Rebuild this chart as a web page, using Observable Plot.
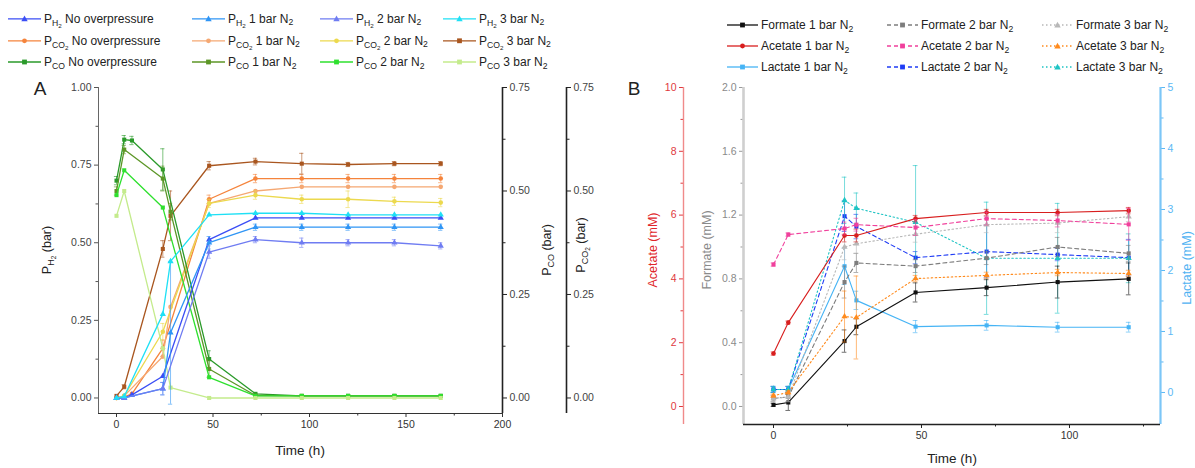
<!DOCTYPE html>
<html><head><meta charset="utf-8">
<script src="https://cdn.jsdelivr.net/npm/d3@7"></script>
<script src="https://cdn.jsdelivr.net/npm/@observablehq/plot@0.6"></script>
<style>
html,body{margin:0;padding:0;background:#fff;}
body{font-family:"Liberation Sans",Arial,Helvetica,sans-serif;}
#root{position:relative;width:1195px;height:468px;overflow:hidden;background:#fff;}
.leg{position:absolute;display:flex;align-items:center;font-size:12px;color:#222;white-space:nowrap;line-height:12px;transform:translateY(-50%);}
.leg svg{margin-right:3px;flex:none;}
sub{font-size:72%;vertical-align:-0.3em;line-height:0;}
.ylab{position:absolute;white-space:nowrap;font-size:12.5px;transform:translate(-50%,-50%) rotate(-90deg);}
.plab{position:absolute;font-size:19px;color:#222;transform:translate(-50%,-50%);}
.xlab{position:absolute;font-size:13.5px;color:#222;transform:translate(-50%,-50%);white-space:nowrap;}
</style></head><body><div id="root"></div>
<script>
// ---------------- Panel A data (time in h, pressures in bar) ----------------
const tA_noOver = [0, 4, 8, 24, 48, 72, 96, 120, 144, 168];
const tA_1bar   = [0, 4, 24, 28, 48, 72, 96, 120, 144, 168];
const tA_2bar   = [0, 4, 24, 48, 72, 96, 120, 144, 168];
const tA_3bar   = [0, 4, 24, 28, 48, 72, 96, 120, 144, 168];

const h2_noOver = [0, 0, 0.01, 0.07, 0.51, 0.58, 0.58, 0.58, 0.58, 0.58];
const h2_1bar   = [0, 0, 0.03, 0.21, 0.50, 0.55, 0.55, 0.55, 0.55, 0.55];
const h2_2bar   = [0, 0, 0.03, 0.47, 0.51, 0.50, 0.50, 0.50, 0.49];
const h2_3bar   = [0, 0.005, 0.27, 0.44, 0.59, 0.595, 0.595, 0.59, 0.59, 0.59];
const h2_1bar_err = [0, 0, 0.02, 0.23, 0.02, 0.01, 0.01, 0.01, 0.01, 0.01];
const h2_2bar_err = [0, 0, 0.02, 0.02, 0.01, 0.015, 0.01, 0.01, 0.01];

const co2_noOver = [0, 0.003, 0.01, 0.12, 0.48, 0.53, 0.53, 0.53, 0.53, 0.53];
const co2_1bar   = [0, 0.005, 0.10, 0.22, 0.47, 0.50, 0.51, 0.51, 0.51, 0.51];
const co2_2bar   = [0, 0.005, 0.16, 0.47, 0.49, 0.48, 0.48, 0.475, 0.472];
const co2_3bar   = [0.005, 0.027, 0.36, 0.44, 0.561, 0.571, 0.566, 0.564, 0.566, 0.566];
const co2_noOver_err = [0, 0, 0, 0.02, 0.01, 0.01, 0.01, 0.01, 0.01, 0.01];
const co2_2bar_err   = [0, 0, 0.02, 0.01, 0.01, 0.01, 0.02, 0.01, 0.01];
const co2_3bar_err   = [0, 0.005, 0.02, 0.06, 0.01, 0.008, 0.025, 0.005, 0.005, 0.005];

const co_noOver = [0.525, 0.624, 0.622, 0.552, 0.094, 0.01, 0.005, 0.005, 0.005, 0.005];
const co_1bar   = [0.50, 0.60, 0.53, 0.45, 0.07, 0.006, 0.005, 0.005, 0.005, 0.005];
const co_2bar   = [0.49, 0.55, 0.46, 0.05, 0.005, 0.005, 0.005, 0.005, 0.005];
const co_3bar   = [0.44, 0.50, 0.12, 0.025, 0, 0, 0, 0, 0, 0];
const co_noOver_err = [0.01, 0.01, 0.01, 0.05, 0.02, 0, 0, 0, 0, 0];
const co_1bar_err   = [0.01, 0.01, 0.03, 0.02, 0.02, 0, 0, 0, 0, 0];

// ---------------- Panel B data (time in h, concentrations in mM) ----------------
const tB = [0, 5, 24, 28, 48, 72, 96, 120];
const formate1 = [0.01, 0.025, 0.41, 0.50, 0.715, 0.745, 0.78, 0.80];
const acetate1 = [1.66, 2.63, 5.36, 5.36, 5.89, 6.08, 6.08, 6.14];
const lactate1 = [0.05, 0.05, 2.07, 1.51, 1.08, 1.10, 1.07, 1.07];
const formate2 = [0.05, 0.06, 0.78, 0.90, 0.88, 0.93, 1.00, 0.96];
const acetate2 = [4.45, 5.39, 5.58, 5.70, 5.61, 5.89, 5.83, 5.71];
const lactate2 = [0.05, 0.05, 2.89, 2.72, 2.21, 2.31, 2.26, 2.21];
const formate3 = [0.05, 0.06, 1.00, 1.02, 1.08, 1.14, 1.15, 1.19];
const acetate3 = [0.34, 0.44, 2.82, 2.79, 4.01, 4.11, 4.20, 4.17];
const lactate3 = [0.05, 0.05, 3.15, 3.02, 2.79, 2.20, 2.20, 2.20];

const formate1Err = [0.01, 0.05, 0.07, 0.05, 0.06, 0.05, 0.10, 0.10];
const acetate1Err = [0.05, 0.05, 0.20, 0.20, 0.10, 0.10, 0.10, 0.10];
const lactate1Err = [0.05, 0.05, 0.30, 0.15, 0.10, 0.08, 0.08, 0.08];
const formate2Err = [0.02, 0.03, 0.10, 0.06, 0.04, 0.04, 0.06, 0.05];
const acetate2Err = [0.05, 0.05, 0.20, 0.20, 0.25, 0.20, 0.20, 0.50];
const lactate2Err = [0.05, 0.05, 0.25, 0.20, 0.10, 0.43, 0.10, 0.30];
const formate3Err = [0.02, 0.03, 0.08, 0.06, 0.05, 0.05, 0.06, 0.03];
const acetate3Err = [0.05, 0.05, 0.80, 1.30, 0.10, 0.10, 0.10, 0.10];
const lactate3Err = [0.05, 0.05, 0.38, 0.25, 0.93, 0.92, 0.90, 0.40];

// ---------------- series definitions ----------------
const seriesA = [
  {gas:"H2",  cond:"No overpressure", t:tA_noOver, v:h2_noOver, e:null,        color:"#3b4ef5", symbol:"triangle", axis:"left"},
  {gas:"H2",  cond:"1 bar",           t:tA_1bar,   v:h2_1bar,   e:h2_1bar_err, color:"#2f95f5", symbol:"triangle", axis:"left"},
  {gas:"H2",  cond:"2 bar",           t:tA_2bar,   v:h2_2bar,   e:h2_2bar_err, color:"#6f7cf2", symbol:"triangle", axis:"left"},
  {gas:"H2",  cond:"3 bar",           t:tA_3bar,   v:h2_3bar,   e:null,        color:"#1fe0f5", symbol:"triangle", axis:"left"},
  {gas:"CO2", cond:"No overpressure", t:tA_noOver, v:co2_noOver, e:co2_noOver_err, color:"#f5843c", symbol:"circle", axis:"right"},
  {gas:"CO2", cond:"1 bar",           t:tA_1bar,   v:co2_1bar,   e:null,           color:"#f5a873", symbol:"circle", axis:"right"},
  {gas:"CO2", cond:"2 bar",           t:tA_2bar,   v:co2_2bar,   e:co2_2bar_err,   color:"#ecd94e", symbol:"circle", axis:"right"},
  {gas:"CO2", cond:"3 bar",           t:tA_3bar,   v:co2_3bar,   e:co2_3bar_err,   color:"#a9561f", symbol:"square", axis:"right"},
  {gas:"CO",  cond:"No overpressure", t:tA_noOver, v:co_noOver, e:co_noOver_err, color:"#2a9a2a", symbol:"square", axis:"right"},
  {gas:"CO",  cond:"1 bar",           t:tA_1bar,   v:co_1bar,   e:co_1bar_err,   color:"#5c9626", symbol:"square", axis:"right"},
  {gas:"CO",  cond:"2 bar",           t:tA_2bar,   v:co_2bar,   e:null,          color:"#2ee02e", symbol:"square", axis:"right"},
  {gas:"CO",  cond:"3 bar",           t:tA_3bar,   v:co_3bar,   e:null,          color:"#c4eb8c", symbol:"square", axis:"right"}
];
const seriesB = [
  {acid:"Formate", bar:1, t:tB, v:formate1, e:formate1Err, color:"#111111", dash:null,  symbol:"square",   axis:"formate"},
  {acid:"Acetate", bar:1, t:tB, v:acetate1, e:acetate1Err, color:"#d81e1e", dash:null,  symbol:"circle",   axis:"acetate"},
  {acid:"Lactate", bar:1, t:tB, v:lactate1, e:lactate1Err, color:"#46b4f5", dash:null,  symbol:"square",   axis:"lactate"},
  {acid:"Formate", bar:2, t:tB, v:formate2, e:formate2Err, color:"#7d7d7d", dash:"4,3", symbol:"square",   axis:"formate"},
  {acid:"Acetate", bar:2, t:tB, v:acetate2, e:acetate2Err, color:"#f0409c", dash:"4,3", symbol:"square",   axis:"acetate"},
  {acid:"Lactate", bar:2, t:tB, v:lactate2, e:lactate2Err, color:"#1f3cf5", dash:"4,3", symbol:"square",   axis:"lactate"},
  {acid:"Formate", bar:3, t:tB, v:formate3, e:formate3Err, color:"#b8b8b8", dash:"1.5,2.5", symbol:"triangle", axis:"formate"},
  {acid:"Acetate", bar:3, t:tB, v:acetate3, e:acetate3Err, color:"#ff8a1c", dash:"1.5,2.5", symbol:"triangle", axis:"acetate"},
  {acid:"Lactate", bar:3, t:tB, v:lactate3, e:lactate3Err, color:"#1ec4c4", dash:"1.5,2.5", symbol:"triangle", axis:"lactate"}
];

// ---------------- helpers ----------------
const root = document.getElementById("root");
const FONT = "Liberation Sans, Arial, sans-serif";
function place(svg){
  svg.style.position = "absolute"; svg.style.left = "0px"; svg.style.top = "0px";
  svg.style.background = "transparent"; svg.style.overflow = "visible"; svg.style.maxWidth = "none";
  root.appendChild(svg);
}
function seriesMarks(s, cap, lw){
  const d = s.t.map((t, i) => ({t, v: s.v[i], e: s.e ? s.e[i] : 0}));
  const de = d.filter(p => p.e > 0);
  const lo = {x:"t", y:"v", stroke:s.color, strokeWidth:lw};
  if (s.dash) lo.strokeDasharray = s.dash;
  return [
    Plot.line(d, lo),
    Plot.ruleX(de, {x:"t", y1:p => p.v - p.e, y2:p => p.v + p.e, stroke:s.color, strokeWidth:0.8, strokeOpacity:0.75}),
    Plot.ruleY(de, {y:p => p.v + p.e, x1:p => p.t - cap, x2:p => p.t + cap, stroke:s.color, strokeWidth:0.8, strokeOpacity:0.75}),
    Plot.ruleY(de, {y:p => p.v - p.e, x1:p => p.t - cap, x2:p => p.t + cap, stroke:s.color, strokeWidth:0.8, strokeOpacity:0.75}),
    Plot.dot(d, {x:"t", y:"v", symbol:s.symbol, fill:s.color, stroke:"none", r:2.3})
  ];
}
function axisY(anchor, ticks, fmt, color, txt, size){
  return Plot.axisY({anchor, ticks, tickFormat:fmt, tickSize:size, tickPadding:3, label:null,
    stroke:color, fill:txt, fontSize:10.5, fontFamily:FONT});
}
function axisX(ticks, fmt, size, color){
  return Plot.axisX({ticks, tickFormat:fmt, tickSize:size, tickPadding:3, label:null,
    stroke:color, fill:"#333", fontSize:10.5, fontFamily:FONT});
}
const blank = () => "";

// ---------------- Panel A ----------------
const A_W = 620, A_H = 468;
const A_margins = {marginLeft:98, marginRight:118, marginTop:87, marginBottom:55};
const A_x = [-9.33, 200];
const A_yL = [-0.05, 1.0];
const A_yR = [-0.0375, 0.75];

place(Plot.plot({
  width:A_W, height:A_H, ...A_margins,
  x:{domain:A_x}, y:{domain:A_yR},
  style:{fontFamily:FONT},
  marks:[
    ...seriesA.filter(s => s.axis === "right").flatMap(s => seriesMarks(s, 1.1, 1.3)),
    axisY("right", [0, 0.25, 0.5, 0.75], d3.format(".2f"), "#222", "#444", 4),
    axisY("right", [0.125, 0.375, 0.625], blank, "#222", "#444", 2.5),
    Plot.ruleX([200], {stroke:"#222", strokeWidth:1.6}),
    Plot.axisX({ticks:[], label:null})
  ]
}));
place(Plot.plot({
  width:A_W, height:A_H, ...A_margins,
  x:{domain:A_x}, y:{domain:A_yL},
  style:{fontFamily:FONT},
  marks:[
    ...seriesA.filter(s => s.axis === "left").flatMap(s => seriesMarks(s, 1.1, 1.3)),
    axisY("left", [0, 0.25, 0.5, 0.75, 1], d3.format(".2f"), "#555", "#444", 4),
    axisY("left", [0.125, 0.375, 0.625, 0.875], blank, "#555", "#444", 2.5),
    axisX([0, 50, 100, 150, 200], d3.format("d"), 4, "#333"),
    axisX([25, 75, 125, 175], blank, 2.5, "#333"),
    Plot.ruleX([A_x[0]], {stroke:"#666", strokeWidth:1}),
    Plot.ruleY([A_yL[0]], {stroke:"#333", strokeWidth:1.2})
  ]
}));
// second right axis (P_CO2)
place(Plot.plot({
  width:680, height:A_H, marginLeft:98, marginRight:114, marginTop:87, marginBottom:55,
  x:{domain:[0, 1], axis:null}, y:{domain:A_yR},
  marks:[
    axisY("right", [0, 0.25, 0.5, 0.75], d3.format(".2f"), "#222", "#444", 4),
    axisY("right", [0.125, 0.375, 0.625], blank, "#222", "#444", 2.5),
    Plot.ruleX([1], {stroke:"#222", strokeWidth:1.6})
  ]
}));

// ---------------- Panel B ----------------
const B_H = 468;
const B_px0 = 773, B_pxh = 2.96;
const B_x = [(743 - B_px0) / B_pxh, (1160 - B_px0) / B_pxh];
const B_x2 = [(683 - B_px0) / B_pxh, B_x[1]];
const B_yF = [-0.113, 2.0], B_yA = [-0.564, 10], B_yL = [-0.525, 5];

// acetate (outer left axis)
place(Plot.plot({
  width:1195, height:B_H, marginLeft:683, marginRight:35, marginTop:87, marginBottom:44,
  x:{domain:B_x2, axis:null}, y:{domain:B_yA},
  marks:[
    axisY("left", [0, 2, 4, 6, 8, 10], d3.format("d"), "#e0393e", "#e0393e", 4),
    axisY("left", [1, 3, 5, 7, 9], blank, "#e0393e", "#e0393e", 2.5),
    Plot.ruleX([B_x2[0]], {stroke:"#f08a8a", strokeWidth:1.4})
  ]
}));
// lactate (right axis)
place(Plot.plot({
  width:1195, height:B_H, marginLeft:743, marginRight:35, marginTop:87, marginBottom:44,
  x:{domain:B_x, axis:null}, y:{domain:B_yL},
  marks:[
    axisY("right", [0, 1, 2, 3, 4, 5], d3.format("d"), "#5bb8f5", "#5bb8f5", 4),
    axisY("right", [0.5, 1.5, 2.5, 3.5, 4.5], blank, "#5bb8f5", "#5bb8f5", 2.5),
    Plot.ruleX([B_x[1]], {stroke:"#7cc6f7", strokeWidth:2.2})
  ]
}));
// formate (main) + x axis
place(Plot.plot({
  width:1195, height:B_H, marginLeft:743, marginRight:35, marginTop:87, marginBottom:44,
  x:{domain:B_x}, y:{domain:B_yF},
  marks:[
    axisY("left", [0, 0.4, 0.8, 1.2, 1.6, 2.0], d3.format(".1f"), "#9a9a9a", "#8a8a8a", 4),
    axisY("left", [0.2, 0.6, 1.0, 1.4, 1.8], blank, "#9a9a9a", "#8a8a8a", 2.5),
    axisX([0, 50, 100], d3.format("d"), 4, "#222"),
    axisX([25, 75, 125], blank, 2.5, "#222"),
    Plot.ruleX([B_x[0]], {stroke:"#cfcfcf", strokeWidth:2.6}),
    Plot.ruleY([B_yF[0]], {stroke:"#222", strokeWidth:1.4})
  ]
}));
// series of panel B, each on its own scale overlay
for (const ax of ["lactate", "formate", "acetate"]) {
  const dom = ax === "formate" ? B_yF : ax === "acetate" ? B_yA : B_yL;
  place(Plot.plot({
    width:1195, height:B_H, marginLeft:743, marginRight:35, marginTop:87, marginBottom:44,
    x:{domain:B_x, axis:null}, y:{domain:dom, axis:null},
    marks: seriesB.filter(s => s.axis === ax).flatMap(s => seriesMarks(s, 0.8, 1.1))
  }));
}

// ---------------- legends & labels ----------------
function symSvg(symbol, cx, cy, color){
  if (symbol === "triangle") return `<path d="M${cx},${cy-3.2}L${cx+3.2},${cy+2.4}L${cx-3.2},${cy+2.4}Z" fill="${color}"/>`;
  if (symbol === "square") return `<rect x="${cx-2.4}" y="${cy-2.4}" width="4.8" height="4.8" fill="${color}"/>`;
  return `<circle cx="${cx}" cy="${cy}" r="2.4" fill="${color}"/>`;
}
function swatch(s, w){
  return `<svg width="${w}" height="10"><line x1="0" y1="5" x2="${w}" y2="5" stroke="${s.color}" stroke-width="1.3"${s.dash ? ` stroke-dasharray="${s.dash}"` : ""}/>${symSvg(s.symbol, w/2, 5, s.color)}</svg>`;
}
const gasHtml = {H2:"P<sub>H<sub>2</sub></sub>", CO2:"P<sub>CO<sub>2</sub></sub>", CO:"P<sub>CO</sub>"};
const condHtml = c => c === "No overpressure" ? c : `${c} N<sub>2</sub>`;
const legAX = [8, 192, 320, 443], legAY = [19, 41, 62];
const gasesOrder = ["H2", "CO2", "CO"], condOrder = ["No overpressure", "1 bar", "2 bar", "3 bar"];
seriesA.forEach(s => {
  const r = gasesOrder.indexOf(s.gas), c = condOrder.indexOf(s.cond);
  const el = document.createElement("div");
  el.className = "leg";
  el.style.left = legAX[c] + "px"; el.style.top = legAY[r] + "px";
  el.innerHTML = swatch(s, 33) + `<span>${gasHtml[s.gas]} ${condHtml(s.cond)}</span>`;
  root.appendChild(el);
});
const legBX = [727, 887, 1042], legBY = [25, 46, 67], acidOrder = ["Formate", "Acetate", "Lactate"];
seriesB.forEach(s => {
  const el = document.createElement("div");
  el.className = "leg";
  el.style.left = legBX[s.bar - 1] + "px"; el.style.top = legBY[acidOrder.indexOf(s.acid)] + "px";
  el.innerHTML = swatch(s, 31) + `<span>${s.acid} ${s.bar} bar N<sub>2</sub></span>`;
  root.appendChild(el);
});
function label(cls, html, x, y, color){
  const el = document.createElement("div");
  el.className = cls; el.innerHTML = html;
  el.style.left = x + "px"; el.style.top = y + "px";
  if (color) el.style.color = color;
  root.appendChild(el);
}
label("plab", "A", 40, 89);
label("plab", "B", 634, 89);
label("ylab", "P<sub>H<sub>2</sub></sub> (bar)", 47, 250, "#222");
label("ylab", "P<sub>CO</sub> (bar)", 547, 250, "#222");
label("ylab", "P<sub>CO<sub>2</sub></sub> (bar)", 581, 245, "#222");
label("ylab", "Acetate (mM)", 653, 250, "#e0262b");
label("ylab", "Formate (mM)", 707, 250, "#8a8a8a");
label("ylab", "Lactate (mM)", 1187, 268, "#4fb2f2");
label("xlab", "Time (h)", 300, 450);
label("xlab", "Time (h)", 952, 458);
</script></body></html>
